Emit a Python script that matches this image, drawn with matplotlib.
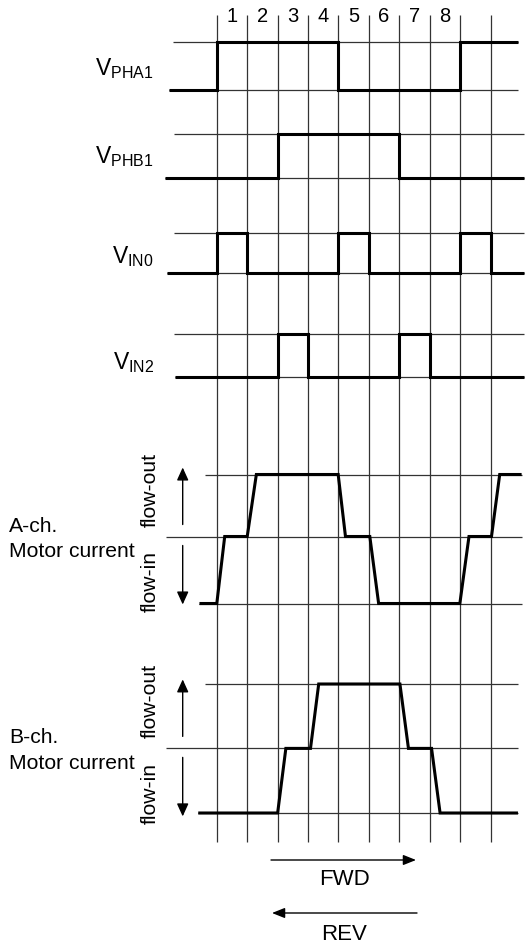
import matplotlib
matplotlib.use("Agg")
import matplotlib.pyplot as plt

plt.rcParams['font.family'] = ['Liberation Sans', 'DejaVu Sans']
plt.rcParams['mathtext.fontset'] = 'custom'
plt.rcParams['mathtext.rm'] = 'Liberation Sans'
plt.rcParams['mathtext.it'] = 'Liberation Sans'

# ---------------- data ----------------
step_labels = ['1', '2', '3', '4', '5', '6', '7', '8']
grid_times = list(range(10))

signal_names = [r'$\mathrm{V}_{\mathrm{PHA1}}$', r'$\mathrm{V}_{\mathrm{PHB1}}$',
                r'$\mathrm{V}_{\mathrm{IN0}}$', r'$\mathrm{V}_{\mathrm{IN2}}$']
pha1_t = [-1.57, 0, 4, 8, 9.9]
pha1_v = [0, 1, 0, 1, 1]
phb1_t = [-1.70, 2, 6, 10.1]
phb1_v = [0, 1, 0, 0]
in0_t = [-1.64, 0, 1, 4, 5, 8, 9, 10.1]
in0_v = [0, 1, 0, 1, 0, 1, 0, 0]
in2_t = [-1.37, 2, 3, 6, 7, 10.1]
in2_v = [0, 1, 0, 1, 0, 0]

cur_a_t = [-0.57, 0, 0.26, 1, 1.30, 3.99, 4.23, 5.03, 5.32, 7.99, 8.29, 9.03, 9.30, 10.02]
cur_a_v = [-1, -1, 0, 0, 1, 1, 0, 0, -1, -1, 0, 0, 1, 1]
cur_b_t = [-0.61, 2, 2.27, 3.08, 3.35, 6.02, 6.30, 7.06, 7.34, 9.9]
cur_b_v = [-1, -1, 0, 0, 1, 1, 0, 0, -1, -1]

# ---------------- layout (pixels) ----------------
W, H = 526, 950
X0, P = 216.8, 30.42


def t_of(px):
    return (px - X0) / P


fig = plt.figure(figsize=(W / 100, H / 100), dpi=100)
ax = fig.add_axes([0, 0, 1, 1])
ax.set_xlim(t_of(0), t_of(W))
ax.set_ylim(H, 0)
ax.axis('off')

GRID = '#333333'
GLW = 0.9
SLW = 2.2
FS = 15.2

# vertical grid
ax.vlines(grid_times, 14.5, 842, color=GRID, lw=GLW)

# step numbers
for i, lab in enumerate(step_labels):
    ax.text(i + 0.5, 22.5, lab, ha='center', va='baseline', fontsize=14.5)

# digital rows: (times, values, y_high, y_low, high-line start, label baseline)
digital = [
    (pha1_t, pha1_v, 42, 90, -1.44, 75),
    (phb1_t, phb1_v, 134, 178, -1.41, 163.3),
    (in0_t, in0_v, 233, 273, -1.41, 263.3),
    (in2_t, in2_v, 334, 377, -1.41, 369.3),
]
for (tt, vv, yh, yl, hstart, lby), name in zip(digital, signal_names):
    ax.hlines(yh, hstart, tt[-1], color=GRID, lw=GLW)
    ax.hlines(yl, tt[0], tt[-1], color=GRID, lw=GLW)
    ys = [yl + v * (yh - yl) for v in vv]
    ax.plot(tt, ys, drawstyle='steps-post', color='black', lw=SLW,
            solid_joinstyle='miter', solid_capstyle='butt')
    ax.text(t_of(154), lby, name, ha='right', va='baseline', fontsize=16.5)

# analog rows
analog = [
    (cur_a_t, cur_a_v, 474.5, 536.5, 603.5, 'A-ch.'),
    (cur_b_t, cur_b_v, 684, 748.4, 813, 'B-ch.'),
]
for tt, vv, ytop, ymid, ybot, lab in analog:
    ax.hlines(ytop, t_of(204.6), tt[-1], color=GRID, lw=GLW)
    ax.hlines(ymid, t_of(166), tt[-1], color=GRID, lw=GLW)
    ax.hlines(ybot, tt[0], tt[-1], color=GRID, lw=GLW)
    ys = [ymid + (-v) * (ybot - ymid) if v < 0 else ymid - v * (ymid - ytop) for v in vv]
    ax.plot(tt, ys, color='black', lw=SLW, solid_joinstyle='miter', solid_capstyle='butt')
    ax.text(t_of(9), ymid - 5, lab, ha='left', va='baseline', fontsize=FS)
    ax.text(t_of(9), ymid + 20.3, 'Motor current', ha='left', va='baseline', fontsize=FS)
    xa = t_of(182.7)
    ax.annotate('', xy=(xa, ymid - 69), xytext=(xa, ymid - 12),
                arrowprops=dict(arrowstyle='-|>,head_length=0.55,head_width=0.25',
                                color='black', lw=1.0, shrinkA=0, shrinkB=0,
                                mutation_scale=14))
    ax.annotate('', xy=(xa, ymid + 68), xytext=(xa, ymid + 9),
                arrowprops=dict(arrowstyle='-|>,head_length=0.55,head_width=0.25',
                                color='black', lw=1.0, shrinkA=0, shrinkB=0,
                                mutation_scale=14))
    ax.text(t_of(150.5), ymid - 47, 'flow-out', rotation=90, ha='center', va='center',
            fontsize=FS)
    ax.text(t_of(150.5), ymid + 45, 'flow-in', rotation=90, ha='center', va='center',
            fontsize=FS)

# direction arrows
ax.annotate('', xy=(t_of(416), 860), xytext=(t_of(271), 860),
            arrowprops=dict(arrowstyle='-|>,head_length=0.55,head_width=0.22',
                            color='black', lw=1.0, shrinkA=0, shrinkB=0, mutation_scale=14))
ax.text(t_of(344.5), 885, 'FWD', ha='center', va='baseline', fontsize=16)
ax.annotate('', xy=(t_of(272), 913), xytext=(t_of(417), 913),
            arrowprops=dict(arrowstyle='-|>,head_length=0.55,head_width=0.22',
                            color='black', lw=1.0, shrinkA=0, shrinkB=0, mutation_scale=14))
ax.text(t_of(344.5), 940, 'REV', ha='center', va='baseline', fontsize=16)

fig.savefig('out.png', dpi=100)
